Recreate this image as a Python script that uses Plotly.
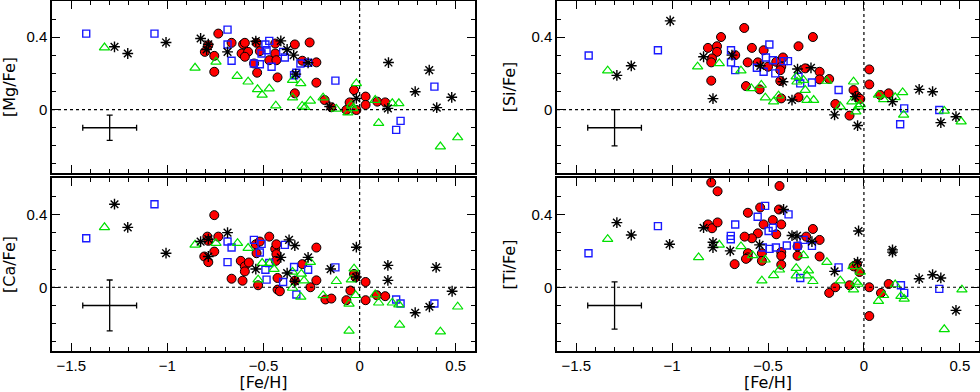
import plotly.graph_objects as go
from plotly.subplots import make_subplots

# [X/Fe] versus [Fe/H] -- four samples, four elements
# red filled circles, blue open squares, green open triangles, black asterisks

MG_CIRCLES = [(-0.735, 0.42), (-0.756, 0.297), (-0.756, 0.209), (-0.805, 0.319), (-0.787, 0.356),
              (-0.666, 0.369), (-0.606, 0.361), (-0.597, 0.369), (-0.614, 0.31), (-0.58, 0.319),
              (-0.597, 0.292), (-0.536, 0.369), (-0.533, 0.204), (-0.549, 0.255), (-0.519, 0.323),
              (-0.47, 0.273), (-0.439, 0.365), (-0.439, 0.31), (-0.433, 0.273), (-0.427, 0.178),
              (-0.337, 0.36), (-0.337, 0.09), (-0.26, 0.371), (-0.298, 0.27), (-0.225, 0.261),
              (-0.225, 0.149), (-0.182, 0.053), (-0.147, 0.013), (-0.029, 0.108), (-0.052, 0.04),
              (-0.069, -0.002), (-0.017, -0.002), (0.031, 0.072), (0.031, 0.026), (0.092, 0.044),
              (0.133, 0.04)]
MG_SQUARES = [(-1.422, 0.42), (-1.067, 0.42), (-0.687, 0.442), (-0.687, 0.36), (-0.666, 0.27),
              (-0.55, 0.255), (-0.519, 0.251), (-0.51, 0.31), (-0.49, 0.36), (-0.484, 0.328),
              (-0.47, 0.38), (-0.458, 0.237), (-0.398, 0.319), (-0.389, 0.288), (-0.341, 0.19),
              (-0.329, 0.204), (-0.308, 0.255), (-0.268, 0.259), (-0.126, 0.16), (0.389, 0.127),
              (0.19, -0.112), (0.213, -0.062)]
MG_TRIANGLES = [(-1.327, 0.343), (-0.856, 0.231), (-0.747, 0.264), (-0.637, 0.185), (-0.58, 0.154),
                (-0.531, 0.112), (-0.507, 0.081), (-0.47, 0.116), (-0.436, 0.022), (-0.349, 0.163),
                (-0.349, 0.066), (-0.306, 0.145), (-0.299, 0.02), (-0.285, 0.013), (-0.256, 0.048),
                (-0.19, 0.066), (-0.121, 0.004), (-0.061, -0.017), (-0.043, 0.026), (-0.035, 0.007),
                (-0.017, 0.145), (0.081, 0.053), (0.099, -0.075), (0.17, 0.035), (0.204, 0.035),
                (0.42, -0.204), (0.51, -0.154)]
MG_STARS = [(-1.275, 0.347), (-1.206, 0.31), (-1.007, 0.371), (-0.827, 0.393), (-0.787, 0.361),
            (-0.796, 0.332), (-0.687, 0.319), (-0.54, 0.378), (-0.41, 0.38), (-0.377, 0.332),
            (-0.343, 0.301), (-0.332, 0.196), (-0.268, 0.259), (-0.156, 0.017), (-0.017, 0.062),
            (0.15, 0.26), (0.147, 0.007), (0.289, 0.099), (0.362, 0.218), (0.401, 0.011),
            (0.479, 0.068)]

SI_CIRCLES = [(-0.624, 0.451), (-0.745, 0.401), (-0.813, 0.341), (-0.766, 0.35), (-0.766, 0.319),
              (-0.792, 0.283), (-0.796, 0.261), (-0.796, 0.16), (-0.671, 0.301), (-0.606, 0.261),
              (-0.584, 0.341), (-0.615, 0.13), (-0.544, 0.112), (-0.553, 0.261), (-0.523, 0.328),
              (-0.5, 0.237), (-0.457, 0.264), (-0.431, 0.237), (-0.422, 0.288), (-0.436, 0.218),
              (-0.436, 0.158), (-0.431, 0.062), (-0.341, 0.35), (-0.341, 0.068), (-0.306, 0.228),
              (-0.266, 0.401), (-0.231, 0.209), (-0.231, 0.167), (-0.181, 0.169), (-0.149, 0.031),
              (-0.075, -0.033), (-0.054, 0.108), (-0.036, 0.075), (-0.019, 0.059), (0.028, 0.222),
              (0.028, 0.139), (0.085, 0.081), (0.129, 0.09)]
SI_SQUARES = [(-1.435, 0.299), (-1.074, 0.328), (-0.693, 0.328), (-0.693, 0.261), (-0.671, 0.218),
              (-0.558, 0.231), (-0.523, 0.209), (-0.511, 0.288), (-0.493, 0.36), (-0.474, 0.273),
              (-0.462, 0.2), (-0.419, 0.268), (-0.396, 0.268), (-0.341, 0.182), (-0.332, 0.145),
              (-0.271, 0.15), (-0.132, 0.108), (0.21, 0.007), (0.189, -0.081), (0.393, -0.002)]
SI_TRIANGLES = [(-1.336, 0.215), (-0.867, 0.237), (-0.754, 0.255), (-0.641, 0.215), (-0.587, 0.117),
                (-0.535, 0.136), (-0.514, 0.066), (-0.471, 0.044), (-0.445, 0.077), (-0.353, 0.182),
                (-0.349, 0.154), (-0.315, 0.163), (-0.306, 0.108), (-0.297, 0.053), (-0.262, 0.053),
                (-0.193, 0.158), (-0.123, 0.017), (-0.063, 0.044), (-0.054, 0.154), (-0.042, -0.011),
                (-0.028, 0.017), (-0.019, 0.029), (0.076, 0.081), (0.103, 0.057), (0.163, 0.068),
                (0.202, 0.095), (0.207, -0.029), (0.419, -0.007), (0.507, -0.066)]
SI_STARS = [(-1.01, 0.49), (-1.288, 0.189), (-1.213, 0.242), (-0.836, 0.292), (-0.787, 0.061),
            (-0.688, 0.301), (-0.54, 0.242), (-0.422, 0.154), (-0.375, 0.053), (-0.346, 0.224),
            (-0.276, 0.231), (-0.153, -0.029), (-0.033, -0.088), (-0.045, 0.072), (0.149, 0.044),
            (0.288, 0.112), (0.358, 0.099), (0.401, -0.072), (0.48, -0.039)]

CA_CIRCLES = [(-0.756, 0.396), (-0.792, 0.278), (-0.787, 0.255), (-0.735, 0.278), (-0.756, 0.196),
              (-0.808, 0.169), (-0.787, 0.138), (-0.666, 0.047), (-0.609, 0.036), (-0.618, 0.145),
              (-0.597, 0.115), (-0.597, 0.087), (-0.576, 0.136), (-0.54, 0.236), (-0.536, 0.187),
              (-0.528, 0.011), (-0.519, 0.251), (-0.47, 0.278), (-0.439, 0.211), (-0.433, 0.236),
              (-0.433, 0.182), (-0.436, 0.145), (-0.427, 0.051), (-0.427, -0.013), (-0.415, -0.022),
              (-0.298, 0.127), (-0.337, 0.036), (-0.256, 0.0), (-0.225, 0.218), (-0.225, 0.038),
              (-0.178, -0.067), (-0.147, -0.062), (-0.069, -0.071), (-0.048, -0.018), (-0.029, 0.073),
              (-0.021, 0.055), (0.031, 0.029), (0.031, -0.071), (0.09, -0.044), (0.133, -0.049)]
CA_SQUARES = [(-1.422, 0.269), (-1.067, 0.456), (-0.687, 0.251), (-0.687, 0.138), (-0.666, 0.218),
              (-0.55, 0.26), (-0.51, 0.238), (-0.519, 0.191), (-0.484, 0.042), (-0.49, 0.096),
              (-0.47, 0.133), (-0.389, 0.233), (-0.398, 0.029), (-0.341, 0.111), (-0.329, -0.04),
              (-0.268, 0.096), (-0.126, 0.109), (0.19, -0.067), (0.213, -0.089), (0.389, -0.089)]
CA_TRIANGLES = [(-1.327, 0.329), (-0.856, 0.233), (-0.747, 0.242), (-0.635, 0.242), (-0.58, 0.215),
                (-0.528, 0.042), (-0.507, 0.133), (-0.467, 0.133), (-0.445, 0.1), (-0.349, 0.084),
                (-0.349, -0.004), (-0.306, -0.053), (-0.303, 0.073), (-0.289, 0.036), (-0.256, 0.138),
                (-0.19, -0.045), (-0.121, 0.033), (-0.055, -0.091), (-0.055, -0.24), (-0.043, 0.042),
                (-0.029, 0.102), (-0.021, -0.044), (0.081, -0.04), (0.099, -0.085), (0.17, -0.085),
                (0.204, -0.095), (0.208, -0.207), (0.42, -0.244), (0.51, -0.107)]
CA_STARS = [(-1.275, 0.456), (-1.206, 0.329), (-1.007, 0.187), (-0.827, 0.251), (-0.787, 0.264),
            (-0.787, 0.169), (-0.687, 0.3), (-0.54, 0.1), (-0.41, 0.164), (-0.367, 0.26),
            (-0.337, 0.229), (-0.377, 0.078), (-0.337, 0.033), (-0.268, 0.164), (-0.151, 0.1),
            (-0.017, 0.22), (-0.017, 0.056), (0.147, 0.12), (0.147, 0.038), (0.289, -0.14),
            (0.363, -0.107), (0.398, 0.109), (0.481, -0.022)]

TI_CIRCLES = [(-0.796, 0.575), (-0.763, 0.527), (-0.44, 0.556), (-0.813, 0.345), (-0.792, 0.324),
              (-0.763, 0.356), (-0.605, 0.409), (-0.541, 0.438), (-0.443, 0.427), (-0.475, 0.369),
              (-0.431, 0.345), (-0.523, 0.345), (-0.553, 0.296), (-0.584, 0.269), (-0.622, 0.278),
              (-0.457, 0.291), (-0.301, 0.278), (-0.266, 0.32), (-0.231, 0.26), (-0.231, 0.169),
              (-0.605, 0.187), (-0.605, 0.164), (-0.615, 0.156), (-0.674, 0.127), (-0.532, 0.187),
              (-0.532, 0.145), (-0.431, 0.193), (-0.431, 0.173), (-0.431, 0.124), (-0.346, 0.173),
              (-0.346, 0.224), (-0.181, -0.031), (-0.149, 0.0), (-0.075, 0.011), (-0.054, 0.115),
              (-0.036, 0.127), (-0.023, 0.084), (0.028, 0.0), (0.028, -0.158), (0.089, -0.031),
              (0.129, 0.018)]
TI_SQUARES = [(-1.436, 0.187), (-1.074, 0.336), (-0.671, 0.345), (-0.694, 0.282), (-0.694, 0.264),
              (-0.554, 0.387), (-0.515, 0.447), (-0.497, 0.309), (-0.475, 0.327), (-0.527, 0.218),
              (-0.492, 0.211), (-0.459, 0.218), (-0.402, 0.229), (-0.393, 0.4), (-0.346, 0.227),
              (-0.315, 0.26), (-0.271, 0.227), (-0.332, 0.051), (-0.132, 0.109), (0.193, 0.011),
              (0.21, -0.031), (0.393, -0.009)]
TI_TRIANGLES = [(-1.336, 0.264), (-0.862, 0.164), (-0.754, 0.233), (-0.641, 0.224), (-0.58, 0.175),
                (-0.532, 0.036), (-0.515, 0.151), (-0.471, 0.065), (-0.44, 0.096), (-0.353, 0.105),
                (-0.353, 0.064), (-0.315, 0.175), (-0.289, 0.091), (-0.297, 0.064), (-0.266, 0.033),
                (-0.193, 0.138), (-0.123, 0.036), (-0.057, 0.115), (-0.054, -0.013), (-0.042, 0.029),
                (-0.031, 0.018), (-0.019, 0.084), (0.076, -0.076), (0.103, -0.044), (0.163, 0.015),
                (0.193, -0.049), (0.21, -0.064), (0.419, -0.231), (0.511, -0.013)]
TI_STARS = [(-1.288, 0.355), (-1.213, 0.287), (-1.013, 0.236), (-0.836, 0.327), (-0.787, 0.247),
            (-0.787, 0.218), (-0.697, 0.2), (-0.544, 0.233), (-0.419, 0.427), (-0.375, 0.284),
            (-0.349, 0.282), (-0.271, 0.251), (-0.153, 0.087), (-0.028, 0.309), (-0.033, 0.138),
            (0.149, 0.205), (0.149, 0.193), (0.288, 0.047), (0.358, 0.069), (0.401, 0.051),
            (0.48, -0.127)]

# typical error cross drawn in the lower left of each panel
ERR_FEH = -1.3
ERR_XFE = -0.1
ERR_DX = 0.14
ERR_DY = {"Mg": 0.07, "Si": 0.10, "Ca": 0.14, "Ti": 0.13}

panels = [
    ("Mg", 1, 1, MG_CIRCLES, MG_SQUARES, MG_TRIANGLES, MG_STARS),
    ("Si", 1, 2, SI_CIRCLES, SI_SQUARES, SI_TRIANGLES, SI_STARS),
    ("Ca", 2, 1, CA_CIRCLES, CA_SQUARES, CA_TRIANGLES, CA_STARS),
    ("Ti", 2, 2, TI_CIRCLES, TI_SQUARES, TI_TRIANGLES, TI_STARS),
]

circle_style = dict(symbol="circle", size=9, color="#ff0000", line=dict(color="black", width=1))
square_style = dict(symbol="square-open", size=7, color="#1a1aff", line=dict(color="#1a1aff", width=1.4))
triangle_style = dict(symbol="triangle-up-open", size=9, color="#00e000", line=dict(color="#00e000", width=1.2))
star_style = dict(symbol="asterisk-open", size=9, color="black", line=dict(color="black", width=1.4))

fig = make_subplots(rows=2, cols=2)

for elem, r, c, circ, sq, tri, star in panels:
    for pts, style in [(circ, circle_style), (sq, square_style), (tri, triangle_style), (star, star_style)]:
        fig.add_trace(go.Scatter(
            x=[p[0] for p in pts], y=[p[1] for p in pts],
            mode="markers", marker=style, showlegend=False, hoverinfo="x+y",
        ), row=r, col=c)
    fig.add_trace(go.Scatter(
        x=[ERR_FEH], y=[ERR_XFE], mode="markers", marker=dict(size=0.1, color="black"),
        error_x=dict(type="constant", value=ERR_DX, color="black", thickness=1.3, width=3),
        error_y=dict(type="constant", value=ERR_DY[elem], color="black", thickness=1.3, width=3),
        showlegend=False, hoverinfo="skip",
    ), row=r, col=c)
    fig.update_yaxes(title_text=f"[{elem}/Fe]", row=r, col=c)

fig.add_hline(y=0, line=dict(color="black", width=1.2, dash="dot"), row="all", col="all")
fig.add_vline(x=0, line=dict(color="black", width=1.2, dash="dot"), row="all", col="all")

axis_common = dict(
    showline=True, linecolor="black", linewidth=1.5, mirror="allticks",
    ticks="inside", ticklen=8, tickwidth=1.2, tickcolor="black",
    showgrid=False, zeroline=False, automargin=False,
    tickfont=dict(family="Liberation Sans, Arial", size=15, color="black"),
    title_font=dict(family="DejaVu Sans", size=16, color="black"),
)
fig.update_xaxes(**axis_common, range=[-1.6, 0.6], dtick=0.5, tick0=0,
                 minor=dict(dtick=0.1, ticks="inside", ticklen=4, tickcolor="black", tickwidth=1))
fig.update_yaxes(**axis_common, range=[-0.35, 0.6], dtick=0.4, tick0=0, title_standoff=12,
                 minor=dict(dtick=0.1, ticks="inside", ticklen=4, tickcolor="black", tickwidth=1))
fig.update_xaxes(showticklabels=False, row=1)
fig.update_xaxes(title_text="[Fe/H]", title_standoff=4, row=2)

# panel placement
fig.update_layout(
    xaxis=dict(domain=[0, 0.4563]), xaxis2=dict(domain=[0.5448, 1]),
    xaxis3=dict(domain=[0, 0.4563]), xaxis4=dict(domain=[0.5448, 1]),
    yaxis=dict(domain=[0.5086, 1]), yaxis2=dict(domain=[0.5086, 1]),
    yaxis3=dict(domain=[0, 0.4943]), yaxis4=dict(domain=[0, 0.4943]),
)

fig.update_layout(
    width=980, height=392,
    margin=dict(l=52, r=1, t=1, b=41),
    plot_bgcolor="white", paper_bgcolor="white",
)

# drop the browser's default page margin so the figure sits at the window corner
fig.write_html("out.html", config={"displayModeBar": False},
               post_script="document.body.style.margin='0';")
